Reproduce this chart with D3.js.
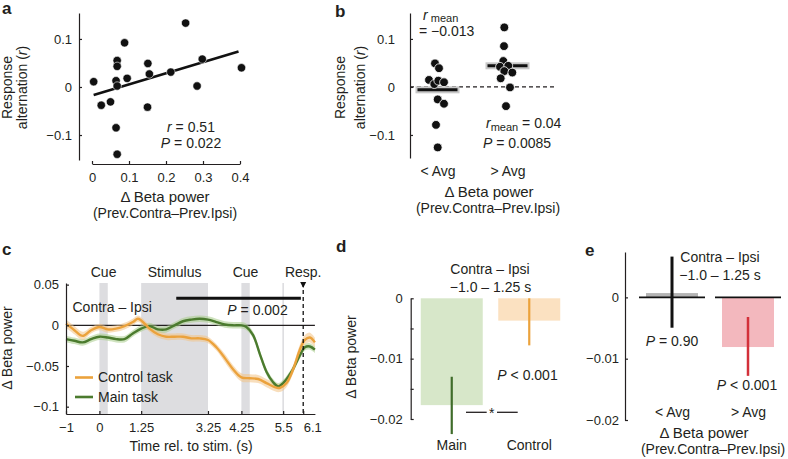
<!DOCTYPE html>
<html><head><meta charset="utf-8">
<script src="https://cdn.jsdelivr.net/npm/d3@7"></script>
<style>
html,body{margin:0;padding:0;background:#fff;}
svg{display:block;font-family:"Liberation Sans",Arial,sans-serif;}
</style></head><body>
<svg id="chart" width="788" height="459"></svg>
<script>
// ---------------- DATA ----------------
// Panel a: scatter
const aBeta = [0.0045,0.025,0.050,0.065,0.068,0.068,0.068,0.065,0.068,0.088,0.095,0.151,0.155,0.150,0.213,0.253,0.284,0.298,0.404];
const aAlt  = [0.011,-0.038,-0.031,0.013,0.055,0.043,0.002,-0.085,-0.140,0.092,0.018,0.049,0.027,-0.042,0.031,0.133,0.002,0.058,0.040];
const aFit = {intercept:-0.0177, slope:0.231, from:0.0045, to:0.396};
const aXTicks = [0,0.1,0.2,0.3,0.4];
const abYTicks = [-0.1,0,0.1];

// Panel b: split groups
const bGroups = ["< Avg","> Avg"];
const bLow  = [0.049,0.039,0.0146,0.006,0.013,0.0098,-0.026,-0.035,-0.079,-0.126];
const bLowJitter  = [-2.5,1.5,-8.5,-3.2,0.8,6.5,0.2,6.5,-1.5,0.2];
const bHigh = [0.124,0.085,0.054,0.042,0.044,0.033,0.030,0.018,-0.001,-0.040];
const bHighJitter = [-3.2,-3.5,-4.2,-7.5,0.8,-3.2,4.8,-6.8,2.5,-1.5];
const bMean = [-0.006,0.044];

// Panel c: time courses
const cTimeControl = [-1,-0.75,-0.5,-0.25,0,0.25,0.5,0.75,1,1.15,1.25,1.5,1.75,2,2.25,2.5,2.75,3,3.25,3.5,3.75,4,4.25,4.5,4.75,5,5.25,5.4,5.6,5.8,6,6.15,6.3,6.45];
const cControl = [0.002,-0.006,-0.013,-0.006,-0.002,-0.005,-0.004,-0.001,0.004,0.008,0.006,-0.004,-0.011,-0.014,-0.014,-0.014,-0.016,-0.016,-0.018,-0.027,-0.040,-0.054,-0.064,-0.065,-0.066,-0.071,-0.076,-0.077,-0.071,-0.054,-0.030,-0.018,-0.015,-0.021];
const cControlSem = [0.005,0.005,0.005,0.004,0.004,0.004,0.004,0.004,0.004,0.004,0.004,0.004,0.004,0.004,0.004,0.004,0.004,0.004,0.004,0.004,0.005,0.005,0.005,0.005,0.005,0.005,0.005,0.005,0.005,0.005,0.006,0.006,0.006,0.006];
const cTimeMain = [-1,-0.75,-0.5,-0.25,0,0.25,0.5,0.75,1,1.25,1.5,1.75,2,2.25,2.5,2.75,3,3.25,3.5,3.75,4,4.25,4.4,4.6,4.8,5,5.2,5.35,5.5,5.75,6,6.15,6.3,6.45];
const cMain = [-0.017,-0.019,-0.021,-0.017,-0.014,-0.015,-0.017,-0.017,-0.010,-0.004,-0.001,-0.005,-0.005,0.000,0.005,0.007,0.008,0.007,0.004,0.001,0.000,0.000,-0.002,-0.012,-0.035,-0.057,-0.070,-0.075,-0.071,-0.057,-0.037,-0.027,-0.026,-0.030];
const cMainSem = [0.004,0.004,0.004,0.004,0.004,0.004,0.004,0.004,0.004,0.004,0.004,0.004,0.004,0.004,0.004,0.004,0.004,0.004,0.004,0.004,0.004,0.004,0.004,0.004,0.004,0.004,0.004,0.004,0.004,0.004,0.004,0.004,0.004,0.004];
const cEvents = [{label:"Cue",start:0,end:0.25},{label:"Stimulus",start:1.25,end:3.25},{label:"Cue",start:4.25,end:4.5}];
const cMarkTime = 5.5;
const cRespTime = 6.1;
const cSigWindow = [2.3,6.03];
const cXTicks = [-1,0,1.25,3.25,4.25,5.5,6.1];
const cYTicks = [-0.1,-0.05,0,0.05];

// Panel d: bars
const dGroups = ["Main","Control"];
const dMean = [-0.0177,-0.0037];
const dSem  = [0.00475,0.0039];
const dErrCenter = [-0.01775,-0.0039];
const dYTicks = [-0.02,-0.015,-0.01,-0.005,0];

// Panel e: bars
const eGroups = ["< Avg","> Avg"];
const eMean = [0.0007,-0.0081];
const eErrCenter = [0.00085,-0.0080];
const eSem  = [0.0058,0.0048];
const eYTicks = [-0.02,-0.01,0];

// ---------------- DRAWING ----------------
const INK = "#231f20";
const FS = 14;      // annotation / title text
const TFS = 13;     // tick labels
const fmt = d3.format("~f");
const svg = d3.select("#chart");
svg.append("rect").attr("width",788).attr("height",459).attr("fill","#fff");

function txt(x, y, parts, anchor, opts) {
  opts = opts || {};
  const t = svg.append("text").attr("x",x).attr("y",y)
    .attr("font-size",opts.size||FS).attr("fill",INK)
    .attr("text-anchor",anchor||"start");
  if (opts.bold) t.attr("font-weight","bold");
  if (opts.rotate) t.attr("transform",`rotate(-90,${x},${y})`);
  parts.forEach(p => {
    const s = t.append("tspan").text(typeof p === "string" ? p : p.t);
    if (p.i) s.attr("font-style","italic");
    if (p.size) s.attr("font-size",p.size);
    if (p.dy) s.attr("dy",p.dy);
  });
  return t;
}
function styleAxis(g) {
  g.attr("font-size",TFS).attr("font-family","'Liberation Sans',Arial,sans-serif");
  g.selectAll("path,line").attr("stroke",INK).attr("stroke-width",1.2);
  g.selectAll("text").attr("fill",INK);
}

// ===== Panel a =====
txt(2,14,["a"],"start",{bold:true,size:17});
const xA = d3.scaleLinear().domain([0,0.4]).range([92,240]);
const yA = d3.scaleLinear().domain([-0.152,0.154]).range([160,13]);
svg.append("g").attr("transform","translate(79,0)")
  .call(d3.axisLeft(yA).tickValues(abYTicks).tickFormat(fmt).tickSizeInner(-3).tickSizeOuter(0).tickPadding(7))
  .call(styleAxis);
svg.append("g").attr("transform","translate(0,164)")
  .call(d3.axisBottom(xA).tickValues(aXTicks).tickFormat(fmt).tickSizeInner(-3).tickSizeOuter(0).tickPadding(9))
  .call(styleAxis);
svg.append("line")
  .attr("x1",xA(aFit.from)).attr("y1",yA(aFit.intercept+aFit.slope*aFit.from))
  .attr("x2",xA(aFit.to)).attr("y2",yA(aFit.intercept+aFit.slope*aFit.to))
  .attr("stroke","#111").attr("stroke-width",2.6);
svg.append("g").selectAll("circle").data(aBeta).join("circle")
  .attr("cx",d=>xA(d)).attr("cy",(d,i)=>yA(aAlt[i])).attr("r",4.2)
  .attr("fill","#111").attr("stroke","#fff").attr("stroke-width",0.6);
txt(191,131.5,[{t:"r",i:true}," = 0.51"],"middle");
txt(191,148,[{t:"P",i:true}," = 0.022"],"middle");
txt(11.5,87.5,["Response"],"middle",{rotate:true});
txt(26.5,87.5,["alternation (",{t:"r",i:true},")"],"middle",{rotate:true});
txt(165,202,["Δ Beta power"],"middle",{size:15});
txt(165,218,["(Prev.Contra–Prev.Ipsi)"],"middle");

// ===== Panel b =====
txt(335,17,["b"],"start",{bold:true,size:17});
const yB = d3.scaleLinear().domain([-0.148,0.154]).range([158,13]);
const xB = d3.scalePoint().domain(bGroups).range([437.5,507.5]);
svg.append("g").attr("transform","translate(410,0)")
  .call(d3.axisLeft(yB).tickValues(abYTicks).tickFormat(fmt).tickSizeInner(-3).tickSizeOuter(0).tickPadding(15))
  .call(styleAxis);
svg.append("line").attr("x1",410).attr("x2",555).attr("y1",yB(0)).attr("y2",yB(0))
  .attr("stroke",INK).attr("stroke-width",1.2).attr("stroke-dasharray","4,3");
bGroups.forEach((gname,gi) => {
  const cx = xB(gname);
  svg.append("rect").attr("x",cx-22).attr("y",yB(bMean[gi])-3.5).attr("width",44).attr("height",7)
    .attr("fill","#c8c8c8");
  svg.append("line").attr("x1",cx-20).attr("x2",cx+20).attr("y1",yB(bMean[gi])).attr("y2",yB(bMean[gi]))
    .attr("stroke","#111").attr("stroke-width",3);
  const vals = gi===0 ? bLow : bHigh;
  const jit = gi===0 ? bLowJitter : bHighJitter;
  svg.append("g").selectAll("circle").data(vals).join("circle")
    .attr("cx",(d,i)=>cx+jit[i]).attr("cy",d=>yB(d)).attr("r",4.4)
    .attr("fill","#111").attr("stroke","#fff").attr("stroke-width",0.8);
});
txt(423,19.5,[{t:"r",i:true},{t:" mean",size:11,dy:"2"}],"start");
txt(419,35.5,["= −0.013"],"start");
txt(486,128,[{t:"r",i:true},{t:"mean",size:11,dy:"3"},{t:" = 0.04",dy:"-3"}],"start");
txt(483,147.5,[{t:"P",i:true}," = 0.0085"],"start");
svg.append("g").attr("transform","translate(0,163)")
  .call(d3.axisBottom(xB).tickSize(0).tickPadding(3))
  .call(styleAxis).call(g=>g.select(".domain").remove())
  .call(g=>g.selectAll("text").attr("font-size",FS));
txt(344.5,87.5,["Response"],"middle",{rotate:true});
txt(364.5,87.5,["alternation (",{t:"r",i:true},")"],"middle",{rotate:true});
txt(489,197,["Δ Beta power"],"middle",{size:15});
txt(488,213,["(Prev.Contra–Prev.Ipsi)"],"middle");

// ===== Panel c =====
txt(2,255,["c"],"start",{bold:true,size:17});
const xC = d3.scaleLinear().domain([-1,6.45]).range([66,314.9]);
const yC = d3.scaleLinear().domain([-0.109,0.052]).range([414,283]);
const cTop = yC.range()[1], cBot = yC.range()[0];
svg.append("g").selectAll("rect").data(cEvents).join("rect")
  .attr("x",d=>xC(d.start)).attr("width",d=>xC(d.end)-xC(d.start))
  .attr("y",cTop).attr("height",cBot-cTop).attr("fill","#dddde0");
svg.append("line").attr("x1",xC(cMarkTime)).attr("x2",xC(cMarkTime)).attr("y1",cTop).attr("y2",cBot)
  .attr("stroke","#dddde0").attr("stroke-width",1.6);
cEvents.forEach(e => txt(xC((e.start+e.end)/2),276.5,[e.label],"middle"));
txt(xC(cRespTime),276.5,["Resp."],"middle");
svg.append("line").attr("x1",xC(xC.domain()[0])).attr("x2",xC(xC.domain()[1])).attr("y1",yC(0)).attr("y2",yC(0))
  .attr("stroke",INK).attr("stroke-width",1.2);
function band(times, vals, sem, fill) {
  const area = d3.area().curve(d3.curveCatmullRom)
    .x((d,i)=>xC(times[i])).y0((d,i)=>yC(vals[i]-sem[i])).y1((d,i)=>yC(vals[i]+sem[i]));
  svg.append("path").datum(vals).attr("d",area).attr("fill",fill).attr("opacity",0.55);
}
function curve(times, vals, color) {
  const line = d3.line().curve(d3.curveCatmullRom).x((d,i)=>xC(times[i])).y(d=>yC(d));
  svg.append("path").datum(vals).attr("d",line).attr("fill","none").attr("stroke",color).attr("stroke-width",2.4);
}
const ORANGE = "#eba23c", GREEN = "#4b7b2e";
band(cTimeMain,cMain,cMainSem,"#a8cc8a");
band(cTimeControl,cControl,cControlSem,"#f3c385");
curve(cTimeMain,cMain,GREEN);
curve(cTimeControl,cControl,ORANGE);
svg.append("line").attr("x1",xC(cRespTime)).attr("x2",xC(cRespTime)).attr("y1",cTop).attr("y2",cBot)
  .attr("stroke","#111").attr("stroke-width",1.3).attr("stroke-dasharray","4,3");
svg.append("path").attr("d",`M${xC(cRespTime)-3},${cTop-1}L${xC(cRespTime)+3},${cTop-1}L${xC(cRespTime)},${cTop+5}Z`).attr("fill","#111");
svg.append("line").attr("x1",xC(cSigWindow[0])).attr("x2",xC(cSigWindow[1])).attr("y1",298.3).attr("y2",298.3)
  .attr("stroke","#111").attr("stroke-width",3);
txt(257.5,315,[{t:"P",i:true}," = 0.002"],"middle");
txt(72.5,311.5,["Contra – Ipsi"],"start");
svg.append("g").attr("transform",`translate(66,0)`)
  .call(d3.axisLeft(yC).tickValues(cYTicks).tickFormat(fmt).tickSizeInner(-3).tickSizeOuter(0).tickPadding(7))
  .call(styleAxis);
svg.append("g").attr("transform",`translate(0,${cBot})`)
  .call(d3.axisBottom(xC).tickValues(cXTicks).tickFormat(fmt).tickSizeInner(-3).tickSizeOuter(0).tickPadding(9))
  .call(styleAxis)
  .call(g=>g.selectAll(".tick text").filter(d=>d===6.1).attr("dx",9));
svg.append("line").attr("x1",75).attr("x2",93).attr("y1",377.5).attr("y2",377.5).attr("stroke",ORANGE).attr("stroke-width",2.6);
txt(98,382,["Control task"],"start");
svg.append("line").attr("x1",75).attr("x2",93).attr("y1",397).attr("y2",397).attr("stroke",GREEN).attr("stroke-width",2.6);
txt(98,402,["Main task"],"start");
txt(12,348,["Δ Beta power"],"middle",{rotate:true});
txt(191,451,["Time rel. to stim. (s)"],"middle");

// ===== Panel d =====
txt(336,252,["d"],"start",{bold:true,size:17});
const yD = d3.scaleLinear().domain([-0.02,0]).range([419,298.3]);
const xD = d3.scaleBand().domain(dGroups).range([413,568]).paddingInner(0.2).paddingOuter(0.1);
const dFill = ["#d7e7c9","#fbe1c1"], dLine = ["#3f6c2a",ORANGE];
dGroups.forEach((g,i) => {
  svg.append("rect").attr("x",xD(g)).attr("width",xD.bandwidth())
    .attr("y",yD(0)).attr("height",yD(dMean[i])-yD(0)).attr("fill",dFill[i]);
  const cx = xD(g)+xD.bandwidth()/2;
  svg.append("line").attr("x1",cx).attr("x2",cx)
    .attr("y1",yD(dErrCenter[i]+dSem[i])).attr("y2",yD(dErrCenter[i]-dSem[i]))
    .attr("stroke",dLine[i]).attr("stroke-width",2.2);
  txt(cx,450,[g],"middle");
});
svg.append("g").attr("transform","translate(410.7,0)")
  .call(d3.axisLeft(yD).tickValues(dYTicks).tickFormat(d=>Math.abs(d*100-Math.round(d*100))<1e-9?fmt(d):"")
    .tickSizeInner(-3).tickSizeOuter(0).tickPadding(8))
  .call(styleAxis);
svg.append("line").attr("x1",466).attr("x2",486.7).attr("y1",412.3).attr("y2",412.3).attr("stroke",INK).attr("stroke-width",1.3);
svg.append("line").attr("x1",497).attr("x2",517.7).attr("y1",412.3).attr("y2",412.3).attr("stroke",INK).attr("stroke-width",1.3);
txt(491.8,418,["*"],"middle");
txt(490,273.5,["Contra – Ipsi"],"middle");
txt(490.5,291.5,["−1.0 – 1.25 s"],"middle");
txt(527.5,379.5,[{t:"P",i:true}," < 0.001"],"middle");
txt(356,357,["Δ Beta power"],"middle",{rotate:true});

// ===== Panel e =====
txt(585,256,["e"],"start",{bold:true,size:17});
const yE = d3.scaleLinear().domain([-0.02,0.0074]).range([420,252]);
const xE = d3.scalePoint().domain(eGroups).range([672,748]);
const eFill = ["#b4b4b4","#f3b8be"], eLine = ["#111","#d3303a"], eW = [3,2.5];
eGroups.forEach((g,i) => {
  const cx = xE(g);
  const y0 = yE(0), y1 = yE(eMean[i]);
  svg.append("rect").attr("x",cx-26).attr("width",52)
    .attr("y",Math.min(y0,y1)).attr("height",Math.abs(y1-y0)).attr("fill",eFill[i]);
  svg.append("line").attr("x1",cx-33).attr("x2",cx+33).attr("y1",y0).attr("y2",y0)
    .attr("stroke","#111").attr("stroke-width",1.6);
  svg.append("line").attr("x1",cx).attr("x2",cx)
    .attr("y1",yE(eErrCenter[i]+eSem[i])).attr("y2",yE(eErrCenter[i]-eSem[i]))
    .attr("stroke",eLine[i]).attr("stroke-width",eW[i]);
});
svg.append("g").attr("transform","translate(625,0)")
  .call(d3.axisLeft(yE).tickValues(eYTicks).tickFormat(fmt).tickSizeInner(-3).tickSizeOuter(0).tickPadding(6))
  .call(styleAxis);
txt(720,262,["Contra – Ipsi"],"middle");
txt(720,279.5,["−1.0 – 1.25 s"],"middle");
txt(672,346,[{t:"P",i:true}," = 0.90"],"middle");
txt(747,389.5,[{t:"P",i:true}," < 0.001"],"middle");
svg.append("g").attr("transform","translate(0,404)")
  .call(d3.axisBottom(xE).tickSize(0).tickPadding(3))
  .call(styleAxis).call(g=>g.select(".domain").remove())
  .call(g=>g.selectAll("text").attr("font-size",FS));
txt(704,438,["Δ Beta power"],"middle",{size:15});
txt(713,454,["(Prev.Contra–Prev.Ipsi)"],"middle");
</script>
</body></html>
